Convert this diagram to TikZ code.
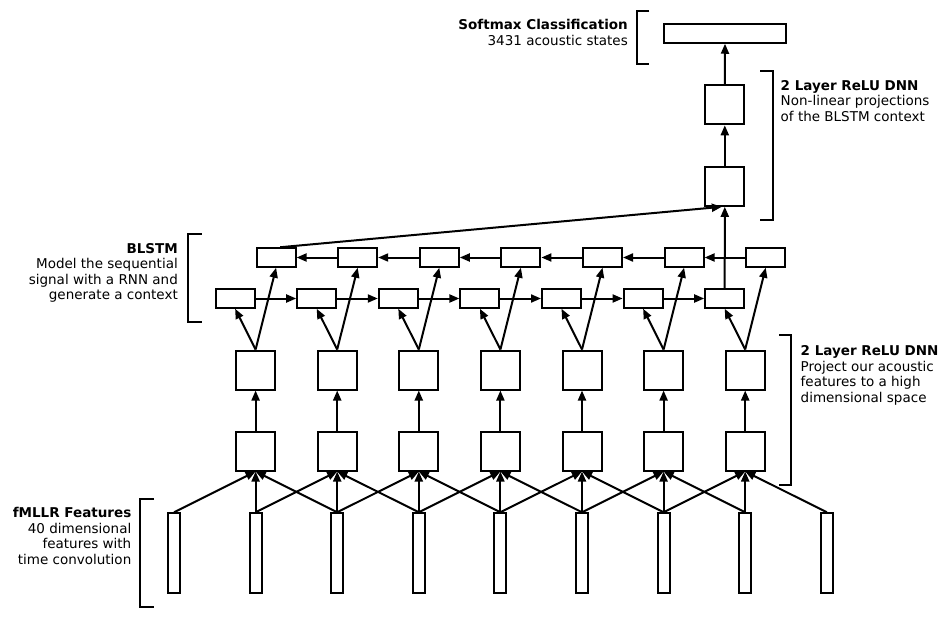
\documentclass[tikz,border=0pt]{standalone}
\usepackage{fontspec}
\setmainfont{DejaVu Sans}
\usetikzlibrary{arrows.meta,positioning}
\tikzset{
  unit/.style={draw,line width=2pt,fill=white,inner sep=0pt,
               minimum width=39pt,minimum height=39pt},
  cell/.style={unit,minimum height=18.5pt},
  feat/.style={unit,minimum width=12pt,minimum height=79.5pt},
  link/.style={line width=2pt,-{Triangle[length=10pt,width=8pt]}},
  brack/.style={line width=2pt},
  lbl/.style={font=\fontsize{13.5}{15.5}\selectfont,inner sep=0pt}
}

\begin{document}
\begin{tikzpicture}[x=1pt,y=-1pt]
  \useasboundingbox (0,0) rectangle (944,620);

  % input frames
  \foreach \i in {1,...,9}
    \node[feat] (f\i) at ({174+81.6*(\i-1)},553) {};

  % frame-wise dnn, blstm cells
  \foreach \j in {1,...,7} {
    \node[unit] (h\j) at ({255.6+81.6*(\j-1)},451) {};
    \node[unit] (g\j) at ({255.6+81.6*(\j-1)},370) {};
    \node[cell] (l\j) at ({235.1+81.6*(\j-1)},298.5) {};
    \node[cell] (r\j) at ({276.1+81.6*(\j-1)},257.5) {};
  }

  % output side
  \node[unit] (d1) at (724.8,186.3) {};
  \node[unit] (d2) at (724.8,104.8) {};
  \node[unit,minimum width=122pt,minimum height=18.5pt] (soft) at (725,33.5) {};

  % time convolution
  \foreach \j [evaluate=\j as \k using int(\j+1),
               evaluate=\j as \m using int(\j+2)] in {1,...,7} {
    \draw[link] (f\j.north) -- (h\j.south);
    \draw[link] (f\k.north) -- (h\j.south);
    \draw[link] (f\m.north) -- (h\j.south);
    \draw[link] (h\j.north) -- (g\j.south);
    \draw[link] (g\j.north) -- (l\j.south);
    \draw[link] (g\j.north) -- (r\j.south);
  }

  % recurrences
  \foreach \j [evaluate=\j as \k using int(\j+1)] in {1,...,6} {
    \draw[link] (l\j.east) -- (l\k.west);
    \draw[link] (r\k.west) -- (r\j.east);
  }

  \draw[link] (l7.north) -- (d1.south);
  \draw[link] ([xshift=4pt]r1.north) -- ([xshift=-3pt]d1.south);
  \draw[link] (d1.north) -- (d2.south);
  \draw[link] (d2.north) -- (soft.south);

  % brackets
  \draw[brack] (649.3,10.7) -| (636.7,63.7) -- (649.3,63.7);
  \draw[brack] (760,71) -| (772.7,220) -- (760,220);
  \draw[brack] (201.7,234) -| (188.3,321.7) -- (201.7,321.7);
  \draw[brack] (779,335) -| (791,484.7) -- (779,484.7);
  \draw[brack] (154,499) -| (140,607) -- (154,607);

  % labels
  \node[lbl,align=right,anchor=north east] (softlbl) at (628,19.5)
    {\textbf{Softmax Classification}\\3431 acoustic states};
  \node[lbl,align=left,anchor=north west] (toplbl) at (780.5,80)
    {\textbf{2 Layer ReLU DNN}\\Non-linear projections\\of the BLSTM context};
  \node[lbl,align=right,anchor=north east] (blstmlbl) at (178,243)
    {\textbf{BLSTM}\\Model the sequential\\signal with a RNN and\\generate a context};
  \node[lbl,align=left,anchor=north west] (dnnlbl) at (800.5,345.5)
    {\textbf{2 Layer ReLU DNN}\\Project our acoustic\\features to a high\\dimensional space};
  \node[lbl,align=right,anchor=north east] (featlbl) at (131.5,507.5)
    {\textbf{fMLLR Features}\\40 dimensional\\features with\\time convolution};
\end{tikzpicture}
\end{document}
